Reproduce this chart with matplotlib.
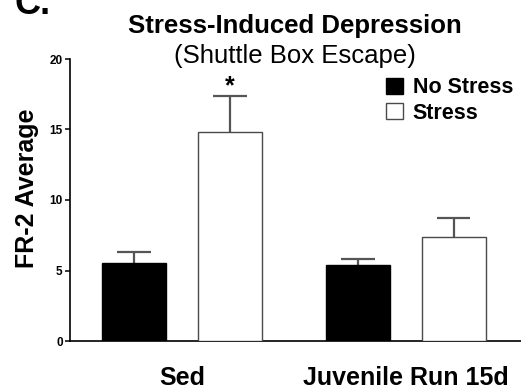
import matplotlib.pyplot as plt
import numpy as np

plt.rcParams['font.family'] = ['Liberation Sans', 'DejaVu Sans']

groups = ["Sed", "Juvenile Run 15d"]
conditions = ["No Stress", "Stress"]
no_stress_mean = [5.55, 5.37]
no_stress_sem = [0.74, 0.42]
stress_mean = [14.8, 7.35]
stress_sem = [2.6, 1.39]

bar_w = 1.0
group_x = np.array([1.75, 5.25])
offsets = [-0.75, 0.75]

fig = plt.figure(figsize=(5.21, 3.91), dpi=100)
ax = fig.add_axes([70 / 521, 1 - 341 / 391, 1 - 70 / 521, (341 - 59) / 391])

series = [(no_stress_mean, no_stress_sem, "black", "black"),
          (stress_mean, stress_sem, "white", "#4a4a4a")]
for (means, sems, face, edge), off, name in zip(series, offsets, conditions):
    xs = group_x + off
    ax.bar(xs, means, width=bar_w, color=face, edgecolor=edge, linewidth=1.0,
           label=name, zorder=3)
    tops = np.array(means) + np.array(sems)
    ax.vlines(xs, means, tops, color="#555555", linewidth=1.6, zorder=2)
    ax.hlines(tops, xs - 0.26, xs + 0.26, color="#555555", linewidth=1.6, zorder=2)

# significance mark over the stressed sedentary group
sig_x = group_x[0] + offsets[1]
ax.text(sig_x, stress_mean[0] + stress_sem[0] - 0.2, "*", ha="center", va="bottom",
        fontsize=18, fontweight="bold")

ax.set_xlim(0, 7.05)
ax.set_ylim(0, 20)
ax.set_yticks([0, 5, 10, 15, 20])
ax.set_xticks(group_x)
ax.set_xticklabels(groups, fontsize=18, fontweight="bold")
ax.tick_params(axis="x", length=0, pad=18)
ax.tick_params(axis="y", length=3.8, width=1.1, pad=1.5, labelsize=8.5)
for lbl in ax.get_yticklabels():
    lbl.set_fontweight("bold")

for side in ["top", "right"]:
    ax.spines[side].set_visible(False)
for side in ["left", "bottom"]:
    ax.spines[side].set_linewidth(1.2)

ax.set_ylabel("FR-2 Average", fontsize=18, fontweight="bold")
ax.yaxis.set_label_coords(-31 / 451, 0.54)

leg = ax.legend(loc="upper left", bbox_to_anchor=(0.70, 0.935), frameon=False,
                prop={"size": 15.5, "weight": "bold"}, handlelength=0.8,
                handleheight=0.8, handletextpad=0.45, labelspacing=0.2,
                borderaxespad=0, borderpad=0)

fig.text(0.566, 1 - 33 / 391, "Stress-Induced Depression", ha="center", va="baseline",
         fontsize=18.5, fontweight="bold")
fig.text(0.566, 1 - 63 / 391, "(Shuttle Box Escape)", ha="center", va="baseline",
         fontsize=18.5)
fig.text(15 / 521, 1 - 14 / 391, "C.", ha="left", va="baseline",
         fontsize=26, fontweight="bold")

fig.savefig("out.png", dpi=100)
